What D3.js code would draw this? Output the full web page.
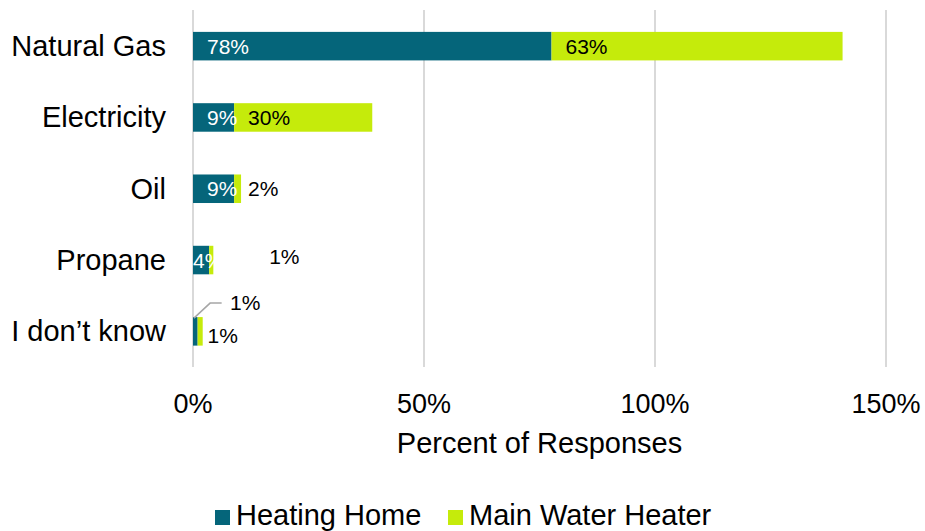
<!DOCTYPE html>
<html>
<head>
    <meta charset="utf-8">
    <title>Heating fuel</title>
    <script src="https://cdnjs.cloudflare.com/ajax/libs/d3/7.8.5/d3.min.js"></script>
    <style>
        body { margin: 0; background: #fff; }
        svg text { font-family: Arial, "Liberation Sans", sans-serif; }
    </style>
</head>
<body>
    <svg id="chart" width="925" height="531"></svg>

    <script>
        // values (percent of responses)
        const categories = ["Natural Gas", "Electricity", "Oil", "Propane", "I don\u2019t know"];
        const heatingHome = [77.6, 8.9, 8.9, 3.5, 1.0];
        const mainWaterHeater = [63.0, 29.9, 1.5, 0.9, 1.1];
        const seriesNames = ["Heating Home", "Main Water Heater"];
        const xTicks = [0, 50, 100, 150];

        const colors = ["#05657a", "#c5eb0b"];
        const labelColors = ["#ffffff", "#000000"];

        const svg = d3.select("#chart");

        const x = d3.scaleLinear().domain([0, 150]).range([193, 886]);
        const y = d3.scaleBand()
                    .domain(categories)
                    .range([10.5, 367])
                    .paddingInner(0.6)
                    .paddingOuter(0.3);

        // gridlines
        svg.append("g")
            .selectAll("line")
            .data(xTicks)
            .join("line")
            .attr("x1", d => x(d))
            .attr("x2", d => x(d))
            .attr("y1", 10)
            .attr("y2", 367)
            .attr("stroke", "#d9d9d9")
            .attr("stroke-width", 2);

        // stacked data
        let rows = categories.map((c, i) => ({cat: c, heating: heatingHome[i], water: mainWaterHeater[i]}));
        let stack = d3.stack().keys(["heating", "water"])(rows);

        let layers = svg.append("g")
            .selectAll("g")
            .data(stack)
            .join("g")
            .attr("fill", (d, i) => colors[i]);

        layers.selectAll("rect")
            .data(d => d)
            .join("rect")
            .attr("x", d => x(d[0]))
            .attr("y", d => y(d.data.cat))
            .attr("width", d => x(d[1]) - x(d[0]))
            .attr("height", y.bandwidth());

        // label nudges (px) for the small segments, like the manual moves in the original
        const nudge = {
            "0-Propane": {dx: -14, dy: 0},
            "1-Propane": {dx: 46, dy: -4},
            "0-I don\u2019t know": {dx: 23, dy: -29},
            "1-I don\u2019t know": {dx: -4, dy: 4}
        };

        stack.forEach((layer, si) => {
            svg.append("g")
                .selectAll("text")
                .data(layer)
                .join("text")
                .attr("x", d => x(d[0]) + 14 + ((nudge[si + "-" + d.data.cat] || {}).dx || 0))
                .attr("y", d => y(d.data.cat) + y.bandwidth() / 2 + 7.5 + ((nudge[si + "-" + d.data.cat] || {}).dy || 0))
                .attr("font-size", 21)
                .attr("fill", d => (nudge[si + "-" + d.data.cat] && si == 0 && d.data.cat != "Propane") ? "#000" : labelColors[si])
                .text(d => Math.round(d[1] - d[0]) + "%");
        });

        // leader line for "I don't know" heating label
        let idk = categories[4];
        svg.append("polyline")
            .attr("points", [
                [x(0.2), y(idk) + 1],
                [x(3.7), y(idk) - 14],
                [x(6.2), y(idk) - 14]
            ].map(p => p.join(",")).join(" "))
            .attr("fill", "none")
            .attr("stroke", "#a6a6a6")
            .attr("stroke-width", 1.5);

        // category labels
        svg.append("g")
            .selectAll("text")
            .data(categories)
            .join("text")
            .attr("x", 166)
            .attr("y", d => y(d) + y.bandwidth() / 2 + 10)
            .attr("text-anchor", "end")
            .attr("font-size", 29)
            .attr("fill", "#000")
            .text(d => d);

        // x tick labels
        svg.append("g")
            .selectAll("text")
            .data(xTicks)
            .join("text")
            .attr("x", d => x(d))
            .attr("y", 413)
            .attr("text-anchor", "middle")
            .attr("font-size", 27)
            .text(d => d + "%");

        svg.append("text")
            .attr("x", (x(0) + x(150)) / 2)
            .attr("y", 453)
            .attr("text-anchor", "middle")
            .attr("font-size", 29)
            .text("Percent of Responses");

        // legend
        const legendX = [215, 448];
        let legend = svg.append("g")
            .selectAll("g")
            .data(seriesNames)
            .join("g")
            .attr("transform", (d, i) => `translate(${legendX[i]},510)`);

        legend.append("rect")
            .attr("width", 15)
            .attr("height", 15)
            .attr("fill", (d, i) => colors[i]);

        legend.append("text")
            .attr("x", 21)
            .attr("y", 15)
            .attr("font-size", 29)
            .text(d => d);
    </script>
</body>
</html>
